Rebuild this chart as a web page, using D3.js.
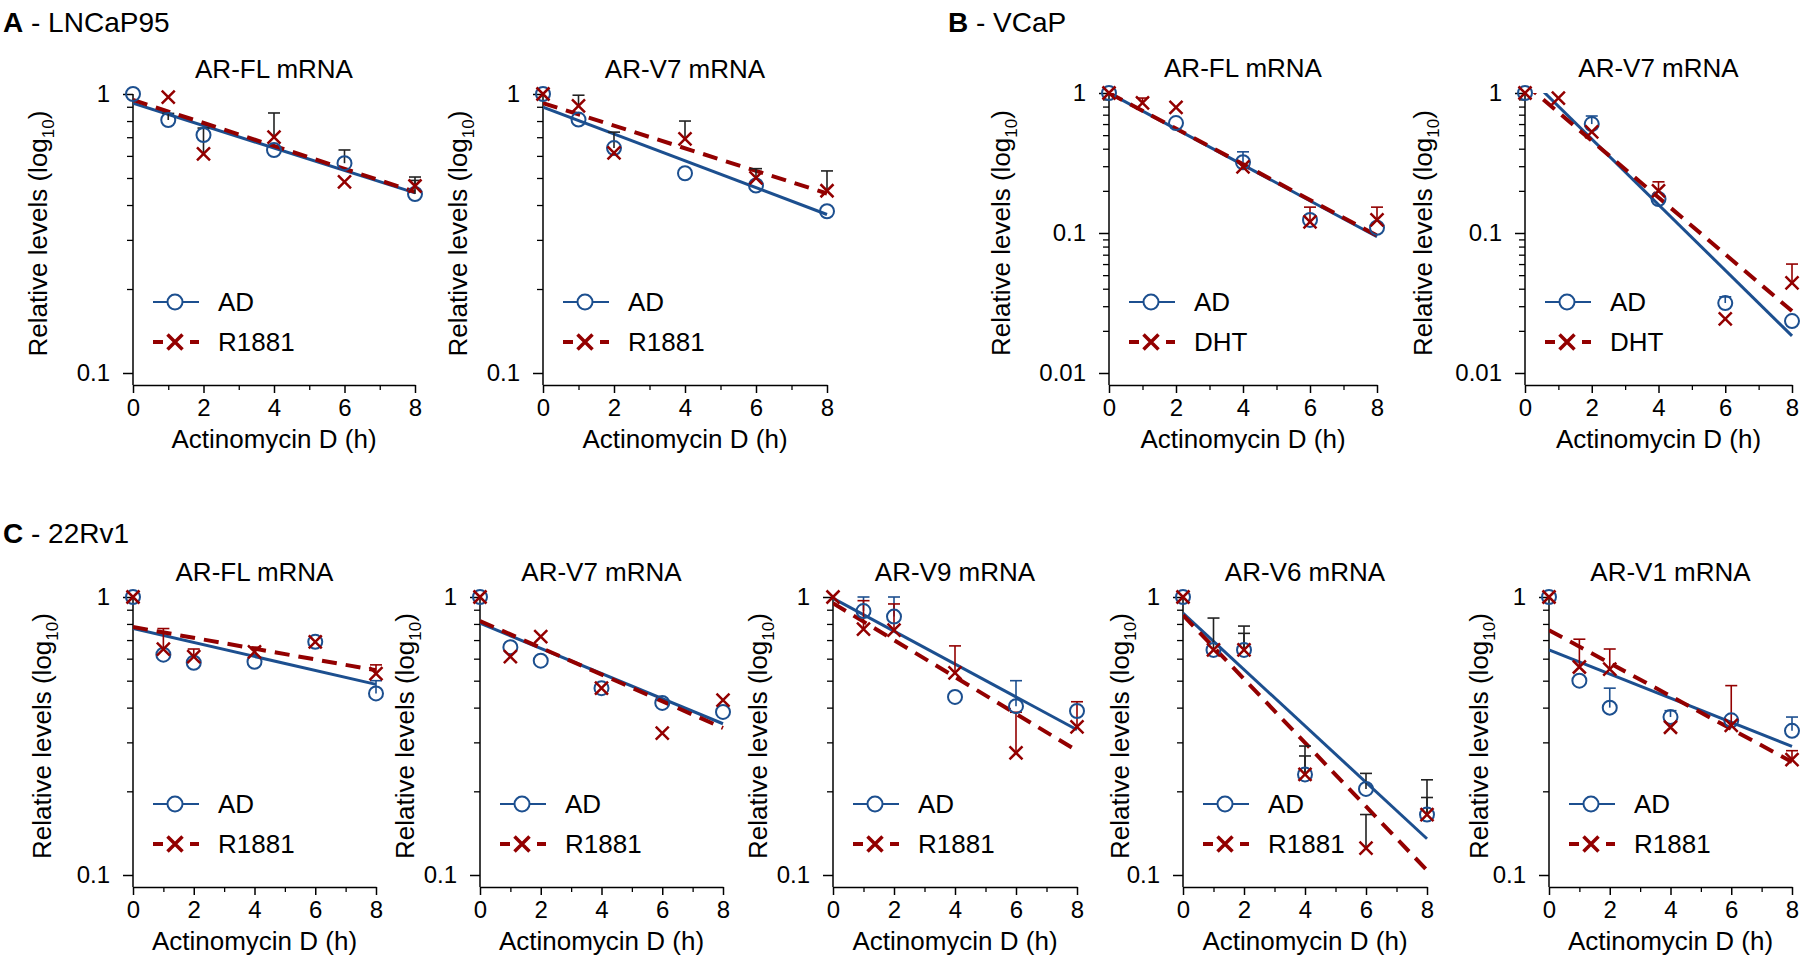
<!DOCTYPE html>
<html>
<head>
<meta charset="utf-8">
<title>AR mRNA decay after actinomycin D</title>
<script src="https://d3js.org/d3.v7.min.js"></script>
<style>
  body { margin: 0; background: #fff; }
  svg text { font-family: "Liberation Sans", Arial, sans-serif; fill: #000; }
</style>
</head>
<body>
<svg id="chart" width="1800" height="964"></svg>
<script>
// time points (h) and axis ticks
const hours = [0, 1, 2, 4, 6, 8];
const xTicks = [0, 2, 4, 6, 8];

// A - LNCaP95, AR-FL
const a1AD = [1, 0.807, 0.713, 0.63, 0.565, 0.438];
const a1R = [null, 0.975, 0.61, 0.70, 0.484, 0.468];
const a1ADErr = [null, 0.852, null, null, 0.63, 0.504];
const a1RErr = [null, null, 0.755, 0.855, null, 0.49];
const a1ADFit = [0.927, 0.442];
const a1RFit = [0.952, 0.446];

// A - LNCaP95, AR-V7
const a2AD = [1, 0.81, 0.64, 0.52, 0.47, 0.38];
const a2R = [1, 0.906, 0.615, 0.69, 0.50, 0.45];
const a2ADErr = [null, null, 0.73, null, null, null];
const a2RErr = [null, 0.99, null, 0.80, 0.54, 0.53];
const a2ADFit = [0.897, 0.37];
const a2RFit = [0.928, 0.44];

// B - VCaP, AR-FL
const b1AD = [1, null, 0.61, 0.32, 0.124, 0.109];
const b1R = [1, 0.85, 0.79, 0.297, 0.12, 0.124];
const b1ADErr = [null, null, null, 0.38, null, null];
const b1RErr = [null, 0.92, null, null, 0.153, 0.153];
const b1ADFit = [1.0, 0.094];
const b1RFit = [1.0, 0.096];

// B - VCaP, AR-V7
const b2AD = [1, null, 0.60, 0.175, 0.0316, 0.0235];
const b2R = [1, 0.92, 0.527, 0.20, 0.0244, 0.044];
const b2ADErr = [null, null, 0.685, null, 0.035, null];
const b2RErr = [null, null, null, 0.232, null, 0.06];
const b2ADFit = [1.38, 0.0184];
const b2RFit = [1.16, 0.0277];

// C - 22Rv1
const c1AD = [1, 0.62, 0.58, 0.585, 0.69, 0.45];
const c1R = [1, 0.65, 0.61, 0.635, 0.69, 0.53];
const c1ADErr = [null, null, null, null, null, 0.50];
const c1RErr = [null, 0.77, 0.65, 0.66, null, 0.57];
const c1ADFit = [0.77, 0.485];
const c1RFit = [0.78, 0.545];

const c2AD = [1, 0.66, 0.59, 0.47, 0.416, 0.386];
const c2R = [1, 0.61, 0.72, 0.47, 0.324, 0.426];
const c2ADErr = [null, null, null, null, null, null];
const c2RErr = [null, null, null, null, null, null];
const c2ADFit = [0.805, 0.35];
const c2RFit = [0.82, 0.338];

const c3AD = [null, 0.89, 0.85, 0.437, 0.405, 0.389];
const c3R = [1, 0.767, 0.76, 0.533, 0.275, 0.341];
const c3ADErr = [null, 1.0, 1.0, null, 0.50, null];
const c3RErr = [null, 0.97, 0.944, 0.667, 0.385, 0.42];
const c3ADFit = [0.99, 0.333];
const c3RFit = [0.95, 0.28];

const c4AD = [1, 0.645, 0.645, 0.23, 0.204, 0.165];
const c4R = [1, 0.645, 0.645, 0.23, 0.125, 0.165];
const c4ADErr = [null, 0.84, 0.786, 0.291, 0.232, 0.22];
const c4RErr = [null, null, 0.74, 0.268, 0.165, 0.19];
const c4ADFit = [0.875, 0.135];
const c4RFit = [0.86, 0.104];

const c5AD = [1, 0.50, 0.40, 0.37, 0.36, 0.33];
const c5R = [1, 0.56, 0.55, 0.34, 0.345, 0.26];
const c5ADErr = [null, null, 0.47, 0.39, null, 0.37];
const c5RErr = [null, 0.705, 0.65, null, 0.48, 0.28];
const c5ADFit = [0.645, 0.29];
const c5RFit = [0.76, 0.255];

const blue = "#1c4f8f", red = "#930000", dark = "#222";

const panelLabels = [
  {x: 3, y: 32, bold: "A", rest: " - LNCaP95"},
  {x: 948, y: 32, bold: "B", rest: " - VCaP"},
  {x: 3, y: 543, bold: "C", rest: " - 22Rv1"}
];

// layout per panel (positions kept apart from the values)
const panels = [
  {x0: 133, x1: 415, top: 94, bottom: 373, yMin: 0.1, title: "AR-FL mRNA", trName: "R1881",
   ad: a1AD, tr: a1R, adErr: a1ADErr, trErr: a1RErr, adFit: a1ADFit, trFit: a1RFit, errCol: [dark, dark], lab: -86},
  {x0: 543, x1: 827, top: 94, bottom: 373, yMin: 0.1, title: "AR-V7 mRNA", trName: "R1881",
   ad: a2AD, tr: a2R, adErr: a2ADErr, trErr: a2RErr, adFit: a2ADFit, trFit: a2RFit, errCol: [dark, dark], lab: -76},
  {x0: 1109, x1: 1377, top: 93, bottom: 373, yMin: 0.01, title: "AR-FL mRNA", trName: "DHT",
   ad: b1AD, tr: b1R, adErr: b1ADErr, trErr: b1RErr, adFit: b1ADFit, trFit: b1RFit, errCol: [blue, red], lab: -99},
  {x0: 1525, x1: 1792, top: 93, bottom: 373, yMin: 0.01, title: "AR-V7 mRNA", trName: "DHT",
   ad: b2AD, tr: b2R, adErr: b2ADErr, trErr: b2RErr, adFit: b2ADFit, trFit: b2RFit, errCol: [blue, red], lab: -93},
  {x0: 133, x1: 376, top: 597, bottom: 875, yMin: 0.1, title: "AR-FL mRNA", trName: "R1881",
   ad: c1AD, tr: c1R, adErr: c1ADErr, trErr: c1RErr, adFit: c1ADFit, trFit: c1RFit, errCol: [blue, red], lab: -82},
  {x0: 480, x1: 723, top: 597, bottom: 875, yMin: 0.1, title: "AR-V7 mRNA", trName: "R1881",
   ad: c2AD, tr: c2R, adErr: c2ADErr, trErr: c2RErr, adFit: c2ADFit, trFit: c2RFit, errCol: [blue, red], lab: -66},
  {x0: 833, x1: 1077, top: 597, bottom: 875, yMin: 0.1, title: "AR-V9 mRNA", trName: "R1881",
   ad: c3AD, tr: c3R, adErr: c3ADErr, trErr: c3RErr, adFit: c3ADFit, trFit: c3RFit, errCol: [blue, red], lab: -66},
  {x0: 1183, x1: 1427, top: 597, bottom: 875, yMin: 0.1, title: "AR-V6 mRNA", trName: "R1881",
   ad: c4AD, tr: c4R, adErr: c4ADErr, trErr: c4RErr, adFit: c4ADFit, trFit: c4RFit, errCol: [dark, dark], lab: -54},
  {x0: 1549, x1: 1792, top: 597, bottom: 875, yMin: 0.1, title: "AR-V1 mRNA", trName: "R1881",
   ad: c5AD, tr: c5R, adErr: c5ADErr, trErr: c5RErr, adFit: c5ADFit, trFit: c5RFit, errCol: [blue, red], lab: -61}
];

const svg = d3.select("#chart");

panelLabels.forEach(p => {
  const t = svg.append("text").attr("x", p.x).attr("y", p.y).style("font-size", "28px");
  t.append("tspan").style("font-weight", "bold").text(p.bold);
  t.append("tspan").text(p.rest);
});

function crossPath(cx, cy, s) {
  return `M${cx - s},${cy - s}L${cx + s},${cy + s}M${cx - s},${cy + s}L${cx + s},${cy - s}`;
}

panels.forEach((p, pi) => {
  const x = d3.scaleLinear().domain([0, 8]).range([p.x0, p.x1]);
  const y = d3.scaleLog().domain([p.yMin, 1]).range([p.bottom, p.top]);
  const axisY = p.bottom + 12;
  const g = svg.append("g");

  // title
  g.append("text").attr("x", (p.x0 + p.x1) / 2).attr("y", p.top - 16)
    .attr("text-anchor", "middle").style("font-size", "26px").text(p.title);

  // y axis: decades with labels, minor ticks without
  const decades = d3.range(Math.round(Math.log10(p.yMin)), 1).map(e => Math.pow(10, e));
  const minors = [];
  decades.slice(0, -1).forEach(d => { for (let k = 2; k <= 9; k++) minors.push(d * k); });

  const yMajor = g.append("g").attr("transform", `translate(${p.x0},0)`)
    .call(d3.axisLeft(y).tickValues(decades).tickSize(10).tickPadding(13)
      .tickFormat(d => d >= 1 ? "1" : d3.format(".2~f")(d)));
  yMajor.select(".domain").remove();
  yMajor.selectAll("text").style("font-size", "24px").style("font-family", "Liberation Sans, Arial, sans-serif");
  yMajor.selectAll("line").attr("stroke", "#000").attr("stroke-width", 1.5);

  const yMinor = g.append("g").attr("transform", `translate(${p.x0},0)`)
    .call(d3.axisLeft(y).tickValues(minors).tickSize(6).tickFormat(""));
  yMinor.select(".domain").remove();
  yMinor.selectAll("line").attr("stroke", "#000").attr("stroke-width", 1.3);

  g.append("line").attr("x1", p.x0).attr("x2", p.x0).attr("y1", p.top).attr("y2", axisY)
    .attr("stroke", "#000").attr("stroke-width", 1.5);

  // x axis
  const xMajor = g.append("g").attr("transform", `translate(0,${axisY})`)
    .call(d3.axisBottom(x).tickValues(xTicks).tickSize(8).tickPadding(6).tickSizeOuter(0));
  xMajor.select(".domain").attr("stroke", "#000").attr("stroke-width", 1.5);
  xMajor.selectAll("text").style("font-size", "24px").style("font-family", "Liberation Sans, Arial, sans-serif");
  xMajor.selectAll("line").attr("stroke-width", 1.5);
  const xMinor = g.append("g").attr("transform", `translate(0,${axisY})`)
    .call(d3.axisBottom(x).tickValues([1, 3, 5, 7]).tickSize(5).tickFormat(""));
  xMinor.select(".domain").remove();
  xMinor.selectAll("line").attr("stroke-width", 1.3);

  g.append("text").attr("x", (p.x0 + p.x1) / 2).attr("y", axisY + 63)
    .attr("text-anchor", "middle").style("font-size", "26px").text("Actinomycin D (h)");

  // y title
  const yt = g.append("text")
    .attr("transform", `translate(${p.x0 + p.lab},${(p.top + p.bottom) / 2}) rotate(-90)`)
    .attr("text-anchor", "middle").style("font-size", "26px");
  yt.append("tspan").text("Relative levels (log");
  yt.append("tspan").attr("dy", 7).style("font-size", "17px").text("10");
  yt.append("tspan").attr("dy", -7).text(")");

  // clip for fit lines
  const clipId = "clip" + pi;
  svg.append("clipPath").attr("id", clipId).append("rect")
    .attr("x", p.x0).attr("y", p.top).attr("width", p.x1 - p.x0 + 2).attr("height", p.bottom - p.top);

  const fitLine = d3.line().x(d => x(d[0])).y(d => y(d[1]));
  g.append("path").attr("clip-path", `url(#${clipId})`)
    .attr("d", fitLine([[0, p.adFit[0]], [8, p.adFit[1]]]))
    .attr("fill", "none").attr("stroke", blue).attr("stroke-width", 3);
  g.append("path").attr("clip-path", `url(#${clipId})`)
    .attr("d", fitLine([[0, p.trFit[0]], [8, p.trFit[1]]]))
    .attr("fill", "none").attr("stroke", red).attr("stroke-width", 4).attr("stroke-dasharray", "15,9");

  // error bars (upper only)
  [[p.ad, p.adErr, p.errCol[0]], [p.tr, p.trErr, p.errCol[1]]].forEach(([vals, errs, col]) => {
    hours.forEach((h, i) => {
      if (vals[i] == null || errs[i] == null) return;
      const cx = x(h);
      g.append("line").attr("x1", cx).attr("x2", cx).attr("y1", y(vals[i])).attr("y2", y(errs[i]))
        .attr("stroke", col).attr("stroke-width", 1.6);
      g.append("line").attr("x1", cx - 6).attr("x2", cx + 6).attr("y1", y(errs[i])).attr("y2", y(errs[i]))
        .attr("stroke", col).attr("stroke-width", 1.6);
    });
  });

  // markers
  g.selectAll(".ad").data(hours.map((h, i) => [h, p.ad[i]]).filter(d => d[1] != null))
    .enter().append("circle")
    .attr("cx", d => x(d[0])).attr("cy", d => y(d[1])).attr("r", 7)
    .attr("fill", "none").attr("stroke", blue).attr("stroke-width", 2);
  g.selectAll(".tr").data(hours.map((h, i) => [h, p.tr[i]]).filter(d => d[1] != null))
    .enter().append("path")
    .attr("d", d => crossPath(x(d[0]), y(d[1]), 6.5))
    .attr("fill", "none").attr("stroke", red).attr("stroke-width", 2.5);

  // legend
  const ly1 = p.bottom - 71, ly2 = p.bottom - 31, lx = p.x0 + 20;
  g.append("line").attr("x1", lx).attr("x2", lx + 46).attr("y1", ly1).attr("y2", ly1)
    .attr("stroke", blue).attr("stroke-width", 2.2);
  g.append("circle").attr("cx", lx + 22).attr("cy", ly1).attr("r", 7.5)
    .attr("fill", "#fff").attr("stroke", blue).attr("stroke-width", 2);
  g.append("text").attr("x", lx + 65).attr("y", ly1 + 9).style("font-size", "26px").text("AD");
  g.append("line").attr("x1", lx).attr("x2", lx + 10).attr("y1", ly2).attr("y2", ly2)
    .attr("stroke", red).attr("stroke-width", 4);
  g.append("line").attr("x1", lx + 37).attr("x2", lx + 46).attr("y1", ly2).attr("y2", ly2)
    .attr("stroke", red).attr("stroke-width", 4);
  g.append("path").attr("d", crossPath(lx + 22, ly2, 7.5))
    .attr("fill", "none").attr("stroke", red).attr("stroke-width", 3.5);
  g.append("text").attr("x", lx + 65).attr("y", ly2 + 9).style("font-size", "26px").text(p.trName);
});
</script>
</body>
</html>
